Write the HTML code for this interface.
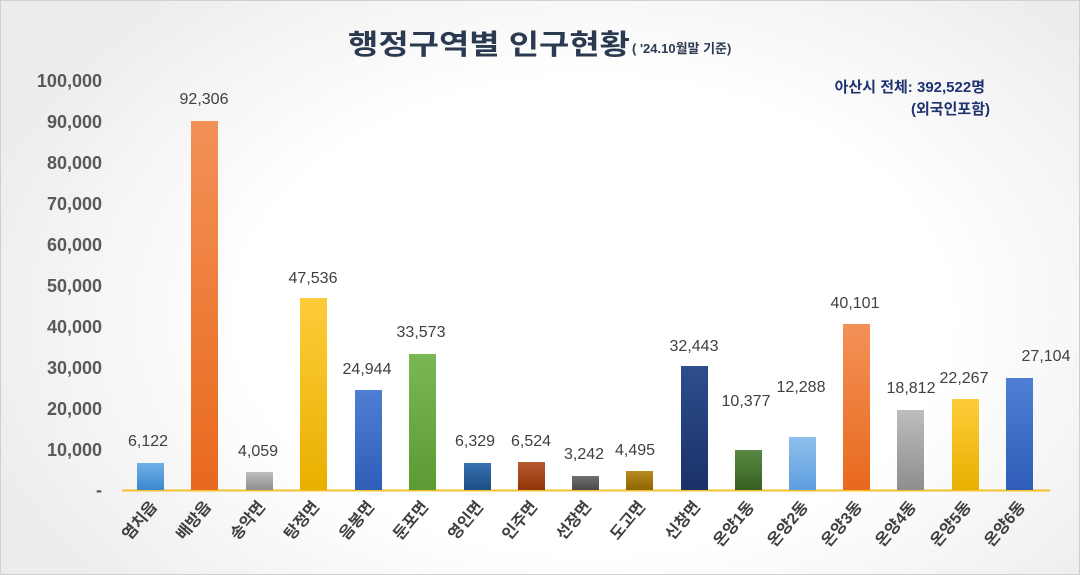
<!DOCTYPE html>
<html><head><meta charset="utf-8"><style>
html,body{margin:0;padding:0;}
body{width:1080px;height:575px;overflow:hidden;background:radial-gradient(ellipse 60% 75% at 55% 55%,#ffffff 55%,#ececec 100%);font-family:"Liberation Sans","Noto Sans CJK KR",sans-serif;}
svg{position:absolute;left:0;top:0;}
</style></head><body>
<svg width="1080" height="575" viewBox="0 0 1080 575" font-family="Liberation Sans, Noto Sans CJK KR, sans-serif">
<defs>
<linearGradient id="g1" x1="0" y1="0" x2="0" y2="1"><stop offset="0" stop-color="#6fb0e6"/><stop offset="1" stop-color="#3c86cf"/></linearGradient>
<linearGradient id="g2" x1="0" y1="0" x2="0" y2="1"><stop offset="0" stop-color="#f39157"/><stop offset="1" stop-color="#e8691d"/></linearGradient>
<linearGradient id="g3" x1="0" y1="0" x2="0" y2="1"><stop offset="0" stop-color="#bdbdbd"/><stop offset="1" stop-color="#8e8e8e"/></linearGradient>
<linearGradient id="g4" x1="0" y1="0" x2="0" y2="1"><stop offset="0" stop-color="#ffcc3a"/><stop offset="1" stop-color="#e8b000"/></linearGradient>
<linearGradient id="g5" x1="0" y1="0" x2="0" y2="1"><stop offset="0" stop-color="#4e7fd4"/><stop offset="1" stop-color="#2f5db8"/></linearGradient>
<linearGradient id="g6" x1="0" y1="0" x2="0" y2="1"><stop offset="0" stop-color="#7ab853"/><stop offset="1" stop-color="#5c9a34"/></linearGradient>
<linearGradient id="g7" x1="0" y1="0" x2="0" y2="1"><stop offset="0" stop-color="#3470b0"/><stop offset="1" stop-color="#1d4f86"/></linearGradient>
<linearGradient id="g8" x1="0" y1="0" x2="0" y2="1"><stop offset="0" stop-color="#b65a30"/><stop offset="1" stop-color="#8e3506"/></linearGradient>
<linearGradient id="g9" x1="0" y1="0" x2="0" y2="1"><stop offset="0" stop-color="#707070"/><stop offset="1" stop-color="#4a4a4a"/></linearGradient>
<linearGradient id="g10" x1="0" y1="0" x2="0" y2="1"><stop offset="0" stop-color="#b98a20"/><stop offset="1" stop-color="#8e6500"/></linearGradient>
<linearGradient id="g11" x1="0" y1="0" x2="0" y2="1"><stop offset="0" stop-color="#2d4e8c"/><stop offset="1" stop-color="#1a3168"/></linearGradient>
<linearGradient id="g12" x1="0" y1="0" x2="0" y2="1"><stop offset="0" stop-color="#5a8a45"/><stop offset="1" stop-color="#355f1f"/></linearGradient>
<linearGradient id="g13" x1="0" y1="0" x2="0" y2="1"><stop offset="0" stop-color="#8fc0ec"/><stop offset="1" stop-color="#5d9ee0"/></linearGradient>
</defs>
<rect x="0.5" y="0.5" width="1079" height="574" fill="none" stroke="#d0d0d0"/>
<text x="348" y="54" font-size="28" font-weight="bold" fill="#2b3a50" textLength="282" lengthAdjust="spacingAndGlyphs">행정구역별 인구현황</text>
<text x="632" y="53" font-size="13" font-weight="bold" fill="#2b3a50">( '24.10월말 기준)</text>
<text x="985" y="92" font-size="15" font-weight="bold" fill="#1f3370" text-anchor="end">아산시 전체: 392,522명</text>
<text x="990" y="114" font-size="15" font-weight="bold" fill="#1f3370" text-anchor="end">(외국인포함)</text>
<g font-size="18" font-weight="bold" fill="#595959" text-anchor="end">
<text x="102" y="87">100,000</text><text x="102" y="128">90,000</text><text x="102" y="169">80,000</text>
<text x="102" y="210">70,000</text><text x="102" y="251">60,000</text><text x="102" y="292">50,000</text>
<text x="102" y="333">40,000</text><text x="102" y="374">30,000</text><text x="102" y="415">20,000</text>
<text x="102" y="456">10,000</text><text x="102" y="496">-</text>
</g>
<line x1="122" y1="490.5" x2="1050" y2="490.5" stroke="#f2c12e" stroke-width="2"/>
<g>
<rect x="137" y="463" width="27" height="27" fill="url(#g1)"/>
<rect x="191" y="121" width="27" height="369" fill="url(#g2)"/>
<rect x="246" y="472" width="27" height="18" fill="url(#g3)"/>
<rect x="300" y="298" width="27" height="192" fill="url(#g4)"/>
<rect x="355" y="390" width="27" height="100" fill="url(#g5)"/>
<rect x="409" y="354" width="27" height="136" fill="url(#g6)"/>
<rect x="464" y="463" width="27" height="27" fill="url(#g7)"/>
<rect x="518" y="462" width="27" height="28" fill="url(#g8)"/>
<rect x="572" y="476" width="27" height="14" fill="url(#g9)"/>
<rect x="626" y="471" width="27" height="19" fill="url(#g10)"/>
<rect x="681" y="366" width="27" height="124" fill="url(#g11)"/>
<rect x="735" y="450" width="27" height="40" fill="url(#g12)"/>
<rect x="789" y="437" width="27" height="53" fill="url(#g13)"/>
<rect x="843" y="324" width="27" height="166" fill="url(#g2)"/>
<rect x="897" y="410" width="27" height="80" fill="url(#g3)"/>
<rect x="952" y="399" width="27" height="91" fill="url(#g4)"/>
<rect x="1006" y="378" width="27" height="112" fill="url(#g5)"/>
</g>
<g font-size="16" fill="#404040" text-anchor="middle">
<text x="148" y="446">6,122</text><text x="204" y="104">92,306</text><text x="258" y="456">4,059</text>
<text x="313" y="283">47,536</text><text x="367" y="374">24,944</text><text x="421" y="337">33,573</text>
<text x="475" y="446">6,329</text><text x="531" y="446">6,524</text><text x="584" y="459">3,242</text>
<text x="635" y="455">4,495</text><text x="694" y="351">32,443</text><text x="746" y="406">10,377</text>
<text x="801" y="392">12,288</text><text x="855" y="308">40,101</text><text x="911" y="393">18,812</text>
<text x="964" y="383">22,267</text><text x="1046" y="361">27,104</text>
</g>
<g font-size="16" font-weight="bold" fill="#404040" text-anchor="end">
<text transform="translate(158,507) rotate(-50)">염치읍</text>
<text transform="translate(212,507) rotate(-50)">배방읍</text>
<text transform="translate(266,507) rotate(-50)">송악면</text>
<text transform="translate(320,507) rotate(-50)">탕정면</text>
<text transform="translate(375,507) rotate(-50)">음봉면</text>
<text transform="translate(429,507) rotate(-50)">둔포면</text>
<text transform="translate(484,507) rotate(-50)">영인면</text>
<text transform="translate(538,507) rotate(-50)">인주면</text>
<text transform="translate(592,507) rotate(-50)">선장면</text>
<text transform="translate(646,507) rotate(-50)">도고면</text>
<text transform="translate(701,507) rotate(-50)">신창면</text>
<text transform="translate(755,507) rotate(-50)">온양1동</text>
<text transform="translate(809,507) rotate(-50)">온양2동</text>
<text transform="translate(863,507) rotate(-50)">온양3동</text>
<text transform="translate(917,507) rotate(-50)">온양4동</text>
<text transform="translate(972,507) rotate(-50)">온양5동</text>
<text transform="translate(1026,507) rotate(-50)">온양6동</text>
</g>
</svg>
</body></html>
